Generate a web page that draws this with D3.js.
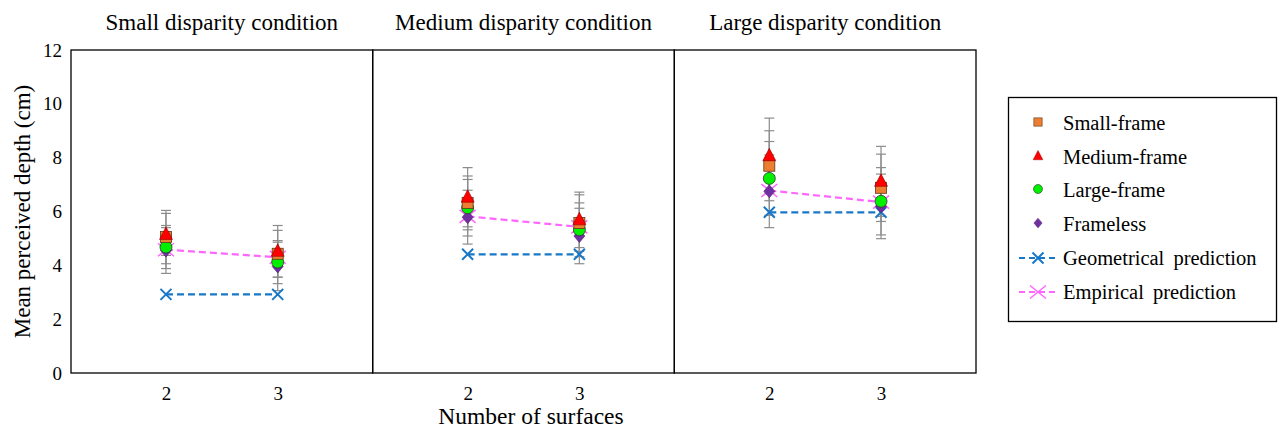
<!DOCTYPE html>
<html><head><meta charset="utf-8">
<script src="https://cdn.jsdelivr.net/npm/d3@7"></script>
<style>body{margin:0;background:#fff}svg{display:block}svg text{font-family:'Liberation Serif','Times New Roman',Times,'DejaVu Serif',serif !important;fill:#000}</style>
</head><body><svg id="c" width="1282" height="428"></svg>
<script>
const panels = ["Small disparity condition","Medium disparity condition","Large disparity condition"];
const surfaces = [2, 3];
const yTicks = [0,2,4,6,8,10,12];
// values per panel: [at 2 surfaces, at 3 surfaces]
const smallFrame   = [[5.05,4.43],[6.32,5.57],[7.70,6.88]];
const smallErr     = [[0.99,0.87],[1.00,1.05],[1.30,1.25]];
const mediumFrame  = [[5.15,4.52],[6.53,5.69],[8.07,7.12]];
const mediumErr    = [[0.78,0.96],[1.10,1.03],[1.40,1.30]];
const largeFrame   = [[4.68,4.12],[6.14,5.32],[7.23,6.38]];
const largeErr     = [[0.80,0.80],[1.05,1.00],[1.37,1.25]];
const frameless    = [[4.55,3.96],[5.79,5.09],[6.75,6.19]];
const framelessErr = [[0.85,0.90],[1.00,1.03],[1.35,1.20]];
const geometrical  = [[2.92,2.92],[4.41,4.41],[5.97,5.97]];
const empirical    = [[4.58,4.30],[5.82,5.43],[6.78,6.35]];

const FONT = "'Liberation Serif','Times New Roman',Times,'DejaVu Serif',serif";
const svg = d3.select("#c").attr("font-family", FONT);
const L = 71, R = 976, T = 50, B = 373;
const y = d3.scaleLinear().domain([0,12]).range([B,T]);
const pw = (R-L)/3;
const gray = "#8c8c8c";

const ya = svg.append("g").attr("transform",`translate(${L},0)`)
  .call(d3.axisLeft(y).tickValues(yTicks).tickSize(0).tickPadding(9));
ya.attr("font-family", FONT).attr("font-size", 19);
ya.select(".domain").remove();
ya.selectAll("text").attr("fill","#000");

svg.append("text").attr("transform",`translate(30,${(T+B)/2+0}) rotate(-90)`)
  .attr("text-anchor","middle").attr("font-size",23).text("Mean perceived depth (cm)");
svg.append("text").attr("x",531).attr("y",424).attr("text-anchor","middle")
  .attr("font-size",23.5).text("Number of surfaces");

const marker = {
  square: (g,c)=>g.append("rect").attr("x",-5.5).attr("y",-5.5).attr("width",11).attr("height",11).attr("fill",c).attr("stroke","#5a3a1a").attr("stroke-width",0.8),
  tri: (g,c)=>g.append("path").attr("d","M0,-7.5L6.5,5L-6.5,5Z").attr("fill",c).attr("stroke","#8b0000").attr("stroke-width",0.6),
  circ: (g,c)=>g.append("circle").attr("r",6).attr("fill",c).attr("stroke","#333").attr("stroke-width",0.8),
  diam: (g,c)=>g.append("path").attr("d","M0,-6.5L5.5,0L0,6.5L-5.5,0Z").attr("fill",c).attr("stroke","#4b2070").attr("stroke-width",0.6),
  xs: (g,c)=>g.append("path").attr("d","M-5.5,-5.5L5.5,5.5M-5.5,5.5L5.5,-5.5").attr("stroke",c).attr("stroke-width",2).attr("fill","none"),
  xl: (g,c)=>g.append("path").attr("d","M-8,-6.5L8,6.5M-8,6.5L8,-6.5").attr("stroke",c).attr("stroke-width",1.5).attr("fill","none")
};
const series = [
  {name:"Small-frame", vals:smallFrame, err:smallErr, m:"square", c:"#ED7D31"},
  {name:"Medium-frame", vals:mediumFrame, err:mediumErr, m:"tri", c:"#FF0000"},
  {name:"Large-frame", vals:largeFrame, err:largeErr, m:"circ", c:"#00F000"},
  {name:"Frameless", vals:frameless, err:framelessErr, m:"diam", c:"#7030A0"}
];
const lines = [
  {name:"Geometrical prediction", vals:geometrical, m:"xs", c:"#1878C8"},
  {name:"Empirical prediction", vals:empirical, m:"xl", c:"#FF66FF"}
];

panels.forEach((title,p)=>{
  const x0 = L + p*pw;
  const x = d3.scaleLinear().domain([1.15,3.85]).range([x0, x0+pw]);
  const g = svg.append("g");
  g.append("rect").attr("x",x0).attr("y",T).attr("width",pw).attr("height",B-T)
    .attr("fill","none").attr("stroke","#000").attr("stroke-width",1.3);
  svg.append("text").attr("x",x0+pw/2).attr("y",30).attr("text-anchor","middle")
    .attr("font-size",23).text(title);
  const xa = svg.append("g").attr("transform",`translate(0,${B})`)
    .call(d3.axisBottom(x).tickValues(surfaces).tickFormat(d3.format("d")).tickSize(0).tickPadding(14));
  xa.attr("font-family", FONT).attr("font-size", 19);
  xa.select(".domain").remove();
  xa.selectAll("text").attr("fill","#000");
  series.forEach(s=>{
    surfaces.forEach((sv,i)=>{
      const v=s.vals[p][i], e=s.err[p][i], cx=x(sv);
      g.append("line").attr("x1",cx).attr("x2",cx).attr("y1",y(v-e)).attr("y2",y(v+e)).attr("stroke",gray).attr("stroke-width",1.2);
      [v-e,v+e].forEach(t=>g.append("line").attr("x1",cx-5).attr("x2",cx+5).attr("y1",y(t)).attr("y2",y(t)).attr("stroke",gray).attr("stroke-width",1.2));
    });
  });
  lines.forEach(s=>{
    g.append("path").datum(surfaces.map((sv,i)=>[x(sv),y(s.vals[p][i])]))
      .attr("d",d3.line()).attr("stroke",s.c).attr("stroke-width",2.2).attr("stroke-dasharray","7,4").attr("fill","none");
    surfaces.forEach((sv,i)=>marker[s.m](g.append("g").attr("transform",`translate(${x(sv)},${y(s.vals[p][i])})`),s.c));
  });
  [3,2,0,1].forEach(k=>{
    const s=series[k];
    surfaces.forEach((sv,i)=>marker[s.m](g.append("g").attr("transform",`translate(${x(sv)},${y(s.vals[p][i])})`),s.c));
  });
});

const lg = svg.append("g");
lg.append("rect").attr("x",1008.5).attr("y",97.5).attr("width",268).attr("height",224)
  .attr("fill","#fff").attr("stroke","#000").attr("stroke-width",1.3);
const rowsY = [123,157,190,224,258,292];
series.forEach((s,i)=>{
  marker[s.m](lg.append("g").attr("transform",`translate(1038,${rowsY[i]-1}) scale(0.75)`),s.c);
  lg.append("text").attr("x",1063).attr("y",rowsY[i]+7).attr("font-size",20.5).text(s.name);
});
lines.forEach((s,j)=>{
  const yy=rowsY[4+j];
  lg.append("line").attr("x1",1019).attr("x2",1057).attr("y1",yy).attr("y2",yy).attr("stroke",s.c).attr("stroke-width",2).attr("stroke-dasharray","6,4");
  marker[s.m](lg.append("g").attr("transform",`translate(1038,${yy})`),s.c);
  lg.append("text").attr("x",1063).attr("y",yy+7).attr("font-size",20.5).attr("word-spacing",4).text(s.name);
});
</script></body></html>
